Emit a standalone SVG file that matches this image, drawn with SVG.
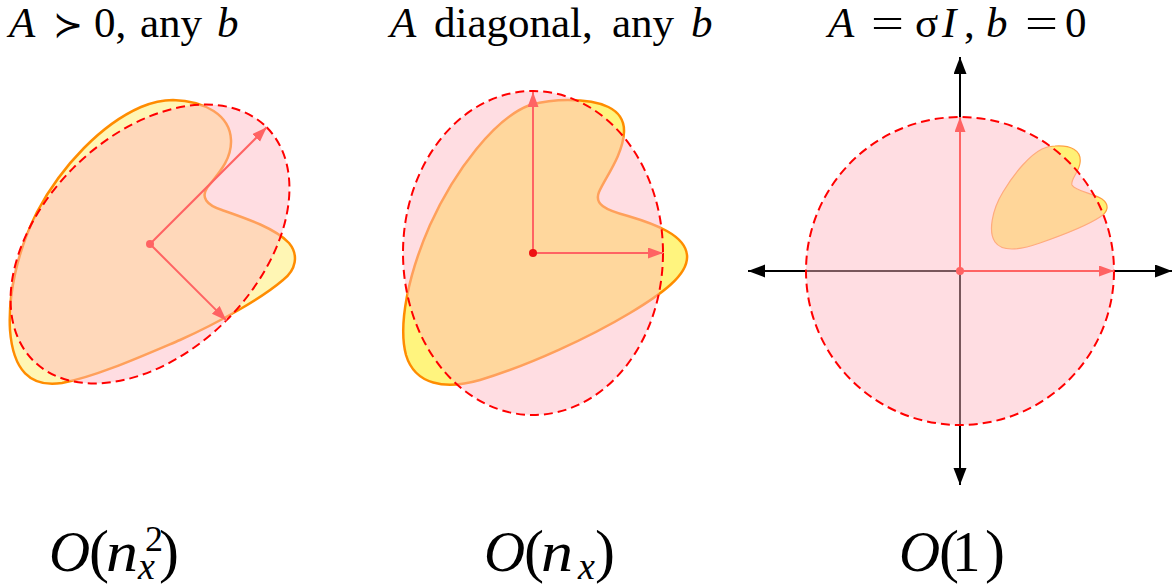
<svg xmlns="http://www.w3.org/2000/svg" width="1173" height="585" viewBox="0 0 1173 585">
<style>
.t{font-family:"Liberation Serif","DejaVu Serif",serif;fill:#000}
.i{font-style:italic}
.heart{stroke:#FF8C00;stroke-width:2.5;stroke-linejoin:round}
.region{fill:#FFB6C1;fill-opacity:0.47;stroke:#FF0000;stroke-width:2;stroke-dasharray:9 5}
.vec{stroke:#FF6363;stroke-width:2;fill:none;marker-end:url(#vh)}
.axis{stroke:#000;stroke-width:2;fill:none;marker-start:url(#ah);marker-end:url(#ah)}
</style>
<defs>
<marker id="vh" markerUnits="userSpaceOnUse" markerWidth="16" markerHeight="12" refX="15" refY="5.5" orient="auto">
<path d="M0,0 L15,5.5 L0,11 Z" fill="#FF6363"/>
</marker>
<marker id="ah" markerUnits="userSpaceOnUse" markerWidth="18" markerHeight="14" refX="17" refY="6.5" orient="auto-start-reverse">
<path d="M0,0 L17,6.5 L0,13 Z" fill="#000"/>
</marker>
</defs>
<rect width="1173" height="585" fill="#fff"/>

<g id="titles">
<text class="t" font-size="43" y="37"><tspan class="i" x="9">A</tspan><tspan x="53" font-size="36">≻</tspan><tspan x="94">0,</tspan><tspan x="140">any</tspan><tspan class="i" x="217">b</tspan></text>
<text class="t" font-size="43" y="37"><tspan class="i" x="390">A</tspan><tspan x="434">diagonal,</tspan><tspan x="612">any</tspan><tspan class="i" x="691">b</tspan></text>
<text class="t" font-size="43" y="37"><tspan class="i" x="828">A</tspan><tspan x="915">σ</tspan><tspan class="i" x="942">I</tspan><tspan x="964">,</tspan><tspan class="i" x="986">b</tspan><tspan x="1065">0</tspan></text>
<text class="t" font-size="43" x="871" y="37" textLength="33" lengthAdjust="spacingAndGlyphs">=</text>
<text class="t" font-size="43" x="1025" y="37" textLength="33" lengthAdjust="spacingAndGlyphs">=</text>
</g>

<g id="panel1">
<path class="heart" fill="#FFF6B4" d="M 173,100 C 205,101 230,115 231,140 C 232,162 214,178 207,188 C 201,197 206,205 222,210 C 245,218 275,228 289,243 C 299,255 296,270 283,280 C 262,298 220,322 180,340 C 140,357 95,377 62,383 C 30,388 13,370 10,330 C 8,295 17,252 37,212 C 62,165 102,124 141,107 C 153,102 163,100 173,100 Z"/>
<ellipse class="region" cx="150" cy="244" rx="165" ry="108" transform="rotate(-45 150 244)"/>
<line class="vec" x1="150" y1="244" x2="266.7" y2="127.3"/>
<line class="vec" x1="150" y1="244" x2="226.4" y2="320.4"/>
<circle cx="150" cy="244" r="4" fill="#FF6363"/>
</g>

<g id="panel2">
<path class="heart" fill="#FFF47E" d="M 568,100 C 600,100 625,108 624,132 C 623,155 605,178 599,192 C 594,204 605,210 628,216 C 655,224 685,235 687,255 C 689,275 660,295 630,313 C 590,337 530,365 480,380 C 445,390 415,385 406,355 C 398,325 408,275 430,225 C 455,170 495,118 530,105 C 545,101 555,100 568,100 Z"/>
<ellipse class="region" cx="533" cy="253" rx="130" ry="162"/>
<line class="vec" x1="533" y1="253" x2="533" y2="92"/>
<line class="vec" x1="533" y1="253" x2="663" y2="253"/>
<circle cx="533" cy="253" r="4" fill="#EE1111"/>
</g>

<g id="panel3">
<line class="axis" x1="748" y1="271" x2="1172" y2="271"/>
<line class="axis" x1="960" y1="485" x2="960" y2="57"/>
<path fill="#FFF176" stroke="#FFA040" stroke-width="1.2" d="M 1055,146 C 1070,145 1082,150 1080,163 C 1079,172 1070,180 1072,185 C 1075,191 1092,193 1102,199 C 1110,205 1108,212 1100,217 C 1085,227 1060,236 1040,243 C 1020,250 1002,252 995,242 C 988,232 992,210 1003,192 C 1015,172 1030,155 1042,149 C 1046,147 1050,146 1055,146 Z"/>
<circle class="region" cx="960" cy="271" r="154" stroke-dasharray="8 5"/>
<line class="vec" x1="960" y1="271" x2="960" y2="117"/>
<line class="vec" x1="960" y1="271" x2="1114" y2="271"/>
<circle cx="960" cy="271" r="4" fill="#FF6363"/>
</g>

<g id="labels">
<text class="t i" font-size="57" x="49" y="571">O</text>
<text class="t" font-size="60" x="89" y="571">(</text>
<text class="t i" font-size="58" x="106" y="571" textLength="32" lengthAdjust="spacingAndGlyphs">n</text>
<text class="t" font-size="36" x="145" y="551">2</text>
<text class="t i" font-size="38" x="138" y="579">x</text>
<text class="t" font-size="60" x="159" y="571">)</text>

<text class="t i" font-size="57" x="484" y="571">O</text>
<text class="t" font-size="60" x="524" y="571">(</text>
<text class="t i" font-size="58" x="541" y="571" textLength="32" lengthAdjust="spacingAndGlyphs">n</text>
<text class="t i" font-size="38" x="578" y="579">x</text>
<text class="t" font-size="60" x="595" y="571">)</text>

<text class="t i" font-size="57" x="899" y="571">O</text>
<text class="t" font-size="60" x="939" y="571">(</text>
<text class="t" font-size="57" x="952" y="571">1</text>
<text class="t" font-size="60" x="985" y="571">)</text>
</g>
</svg>
